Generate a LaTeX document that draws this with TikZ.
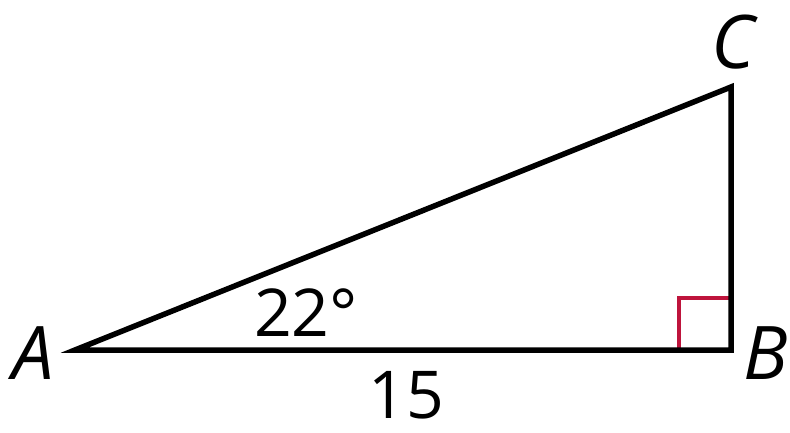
\documentclass[tikz,border=0pt]{standalone}
\usepackage{fontspec}
\setmainfont{Open Sans}
\definecolor{rightred}{RGB}{190,20,60}
\begin{document}
\begin{tikzpicture}[x=1pt,y=-1pt,
  side/.style={line width=5.5pt,line join=miter},
  marker/.style={line width=3.5pt,draw=rightred},
  vlabel/.style={font=\fontsize{74}{74}\selectfont\itshape,inner sep=0pt},
  nlabel/.style={font=\fontsize{66}{66}\selectfont,inner sep=0pt}]
\useasboundingbox (0,0) rectangle (790,432);
\coordinate (A) at (75,350);
\coordinate (B) at (731,350);
\coordinate (C) at (731,87);
\coordinate (M1) at (679,350);
\coordinate (M2) at (679,298);
\coordinate (M3) at (731,298);
\draw[marker] (M1) -- (M2) -- (M3);
\draw[side] (A) -- (B) -- (C) -- cycle;
\node[vlabel] (la) at (33,353) {A};
\node[vlabel] (lb) at (766,353) {B};
\node[vlabel] (lc) at (733,42) {C};
\node[nlabel] (ang) at (306,313) {22°};
\node[nlabel] (len) at (406,395) {15};
\end{tikzpicture}
\end{document}
